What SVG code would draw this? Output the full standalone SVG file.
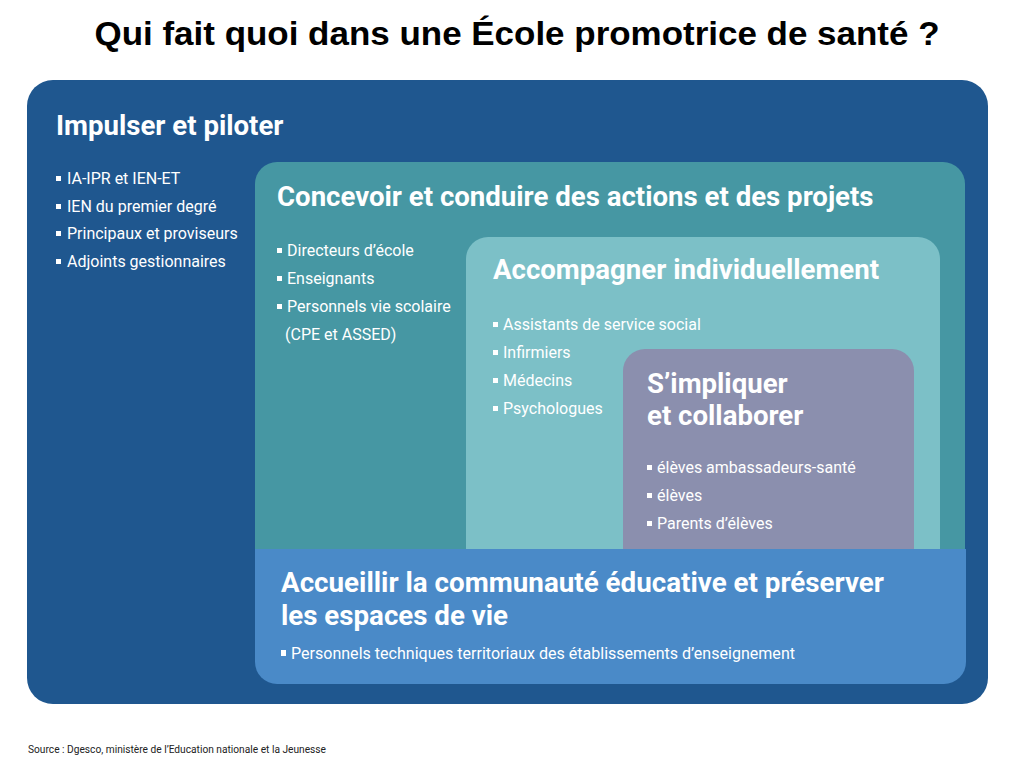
<svg xmlns="http://www.w3.org/2000/svg" width="1033" height="772" viewBox="0 0 1033 772">
<style>
.h{font-family:Roboto,"Liberation Sans",sans-serif;font-weight:bold;fill:#fff;font-size:27.6px}
.t{font-family:Roboto,"Liberation Sans",sans-serif;fill:#fff;font-size:16px}
.b{fill:#fff}
</style>
<rect width="1033" height="772" fill="#fff"/>
<text x="517" y="45" text-anchor="middle" textLength="845" lengthAdjust="spacingAndGlyphs" style="font-family:'Liberation Sans',Arial,sans-serif;font-weight:bold;font-size:34px" fill="#000">Qui fait quoi dans une École promotrice de santé ?</text>
<g id="impulser">
<rect x="27" y="80" width="961" height="624" rx="26" fill="#1f578f"/>
<text class="h" x="56" y="135">Impulser et piloter</text>
<rect class="b" x="56" y="176" width="5" height="5"/><text class="t" x="67" y="184">IA-IPR et IEN-ET</text>
<rect class="b" x="56" y="204" width="5" height="5"/><text class="t" x="67" y="212">IEN du premier degré</text>
<rect class="b" x="56" y="231" width="5" height="5"/><text class="t" x="67" y="239">Principaux et proviseurs</text>
<rect class="b" x="56" y="259" width="5" height="5"/><text class="t" x="67" y="267">Adjoints gestionnaires</text>
</g>
<g id="concevoir">
<rect x="255" y="162" width="710" height="420" rx="22" fill="#4697a3"/>
<text class="h" x="277" y="206">Concevoir et conduire des actions et des projets</text>
<rect class="b" x="277" y="248" width="5" height="5"/><text class="t" x="287" y="256">Directeurs d’école</text>
<rect class="b" x="277" y="276" width="5" height="5"/><text class="t" x="287" y="284">Enseignants</text>
<rect class="b" x="277" y="304" width="5" height="5"/><text class="t" x="287" y="312">Personnels vie scolaire</text>
<text class="t" x="285" y="340">(CPE et ASSED)</text>
</g>
<g id="accompagner">
<rect x="466" y="237" width="474" height="340" rx="22" fill="#7cc0c7"/>
<text class="h" x="493" y="279">Accompagner individuellement</text>
<rect class="b" x="493" y="322" width="5" height="5"/><text class="t" x="503" y="330">Assistants de service social</text>
<rect class="b" x="493" y="350" width="5" height="5"/><text class="t" x="503" y="358">Infirmiers</text>
<rect class="b" x="493" y="378" width="5" height="5"/><text class="t" x="503" y="386">Médecins</text>
<rect class="b" x="493" y="406" width="5" height="5"/><text class="t" x="503" y="414">Psychologues</text>
</g>
<g id="impliquer">
<rect x="623" y="349" width="291" height="230" rx="22" fill="#8b8fae"/>
<text class="h" x="647" y="393">S’impliquer</text>
<text class="h" x="647" y="425">et collaborer</text>
<rect class="b" x="647" y="465" width="5" height="5"/><text class="t" x="657" y="473">élèves ambassadeurs-santé</text>
<rect class="b" x="647" y="493" width="5" height="5"/><text class="t" x="657" y="501">élèves</text>
<rect class="b" x="647" y="521" width="5" height="5"/><text class="t" x="657" y="529">Parents d’élèves</text>
</g>
<g id="accueillir">
<path d="M255 549 H966 V662 a22 22 0 0 1 -22 22 H277 a22 22 0 0 1 -22 -22 Z" fill="#4a8ac8"/>
<text class="h" x="281" y="592" textLength="603" lengthAdjust="spacingAndGlyphs">Accueillir la communauté éducative et préserver</text>
<text class="h" x="281" y="625" textLength="227" lengthAdjust="spacingAndGlyphs">les espaces de vie</text>
<rect class="b" x="281" y="650" width="5" height="6"/><text class="t" x="291" y="659" textLength="504" lengthAdjust="spacingAndGlyphs">Personnels techniques territoriaux des établissements d’enseignement</text>
</g>
<g id="connectors"></g>
<text x="28" y="753" textLength="298" lengthAdjust="spacingAndGlyphs" style="font-family:Roboto,'Liberation Sans',sans-serif;font-size:10px" fill="#222">Source : Dgesco, ministère de l’Education nationale et la Jeunesse</text>
</svg>
